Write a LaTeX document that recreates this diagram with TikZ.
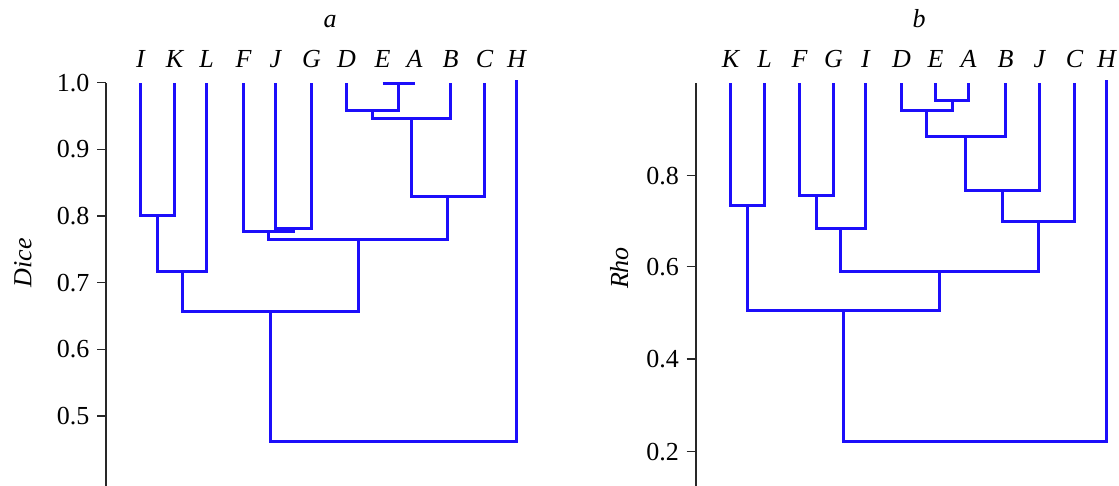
\documentclass[tikz,border=0pt]{standalone}
\usepackage{fontspec}
\setmainfont{Liberation Serif}
\definecolor{dendroblue}{RGB}{28,14,250}
\definecolor{axisgray}{RGB}{40,40,40}
\tikzset{
  dend/.style={draw=dendroblue, line width=3pt, line join=miter},
  axisline/.style={draw=axisgray, line width=1.6pt},
  leaf/.style={font=\itshape, anchor=base, inner sep=0pt},
  ticklab/.style={anchor=east, inner sep=0pt},
  paneltitle/.style={font=\itshape, anchor=base, inner sep=0pt},
  axistitle/.style={font=\itshape, anchor=base, inner sep=0pt, rotate=90}
}
\begin{document}
\begin{tikzpicture}[x=1pt,y=1pt]
\fontsize{26}{30}\selectfont
\useasboundingbox (0,0) rectangle (1119,486);

% ---------------- panel a : Dice ----------------
\node[paneltitle] (ta) at (330,458.5) {a};
\node[axistitle] (ya) at (31.5,223.5) {Dice};
\draw[axisline] (106,0) -- (106,403.3);
\foreach \v/\Y in {1.0/403.3, 0.9/336.6, 0.8/270, 0.7/203.3, 0.6/136.6, 0.5/70}{
  \draw[axisline] (97,\Y) -- (106,\Y);
  \node[ticklab] at (89.5,\Y) {\v};
}
% leaves
\foreach \n/\x in {I/140.5, K/174.5, L/206.5, F/243.5, J/275.5, G/311.5,
                   D/346.5, E/382.5, A/414.5, B/450.5, C/484.5}{
  \node[leaf] (la\n) at (\x,418.7) {\n};
  \coordinate (a\n) at (\x,402.5);
}
\node[leaf] (laH) at (516.5,418.7) {H};
\coordinate (aH) at (516.5,405.5);
% merge points
\coordinate (mEA)    at (398.5,402.5);
\coordinate (mDEA)   at (372.5,375.5);
\coordinate (mDEAB)  at (411.5,367.5);
\coordinate (mDEABC) at (447.5,289.5);
\coordinate (mJG)    at (293.5,257.5);
\coordinate (mFJG)   at (268.5,254.5);
\coordinate (mFD)    at (358.5,246.5);
\coordinate (mIK)    at (157.5,270.5);
\coordinate (mIKL)   at (182.5,214.5);
\coordinate (mLeft)  at (270.5,174.5);
\coordinate (mRoot)  at (393.5,44.5);
% branches
\draw[dend] (aE) |- (mEA) -| (aA);
\draw[dend] (aD) |- (mDEA) -| (mEA);
\draw[dend] (mDEA) |- (mDEAB) -| (aB);
\draw[dend] (mDEAB) |- (mDEABC) -| (aC);
\draw[dend] (aJ) |- (mJG) -| (aG);
\draw[dend] (aF) |- (mFJG) -| (mJG);
\draw[dend] (mFJG) |- (mFD) -| (mDEABC);
\draw[dend] (aI) |- (mIK) -| (aK);
\draw[dend] (mIK) |- (mIKL) -| (aL);
\draw[dend] (mIKL) |- (mLeft) -| (mFD);
\draw[dend] (mLeft) |- (mRoot) -| (aH);

% ---------------- panel b : Rho ----------------
\node[paneltitle] (tb) at (919,458.5) {b};
\node[axistitle] (yb) at (628,218) {Rho};
\draw[axisline] (696,0) -- (696,403.3);
\foreach \v/\Y in {0.8/310.3, 0.6/219.3, 0.4/127, 0.2/34.3}{
  \draw[axisline] (686.7,\Y) -- (696,\Y);
  \node[ticklab] at (679,\Y) {\v};
}
% leaves
\foreach \n/\x in {K/730.5, L/764.5, F/799.5, G/833.5, I/865.5, D/901.5,
                   E/935.5, A/968.5, B/1005.5, J/1039.5, C/1074.5}{
  \node[leaf] (lb\n) at (\x,418.7) {\n};
  \coordinate (b\n) at (\x,402.5);
}
\node[leaf] (lbH) at (1106.5,418.7) {H};
\coordinate (bH) at (1106.5,405.5);
% merge points
\coordinate (nEA)     at (952.5,385.5);
\coordinate (nDEA)    at (926.5,375.5);
\coordinate (nDEAB)   at (965.5,349.5);
\coordinate (nDEABJ)  at (1002.5,295.5);
\coordinate (nDEABJC) at (1038.5,264.5);
\coordinate (nFG)     at (816.5,290.5);
\coordinate (nFGI)    at (840.5,257.5);
\coordinate (nMid)    at (939.5,214.5);
\coordinate (nKL)     at (747.5,280.5);
\coordinate (nLeft)   at (843.5,175.5);
\coordinate (nRoot)   at (974.5,44.5);
% branches
\draw[dend] (bE) |- (nEA) -| (bA);
\draw[dend] (bD) |- (nDEA) -| (nEA);
\draw[dend] (nDEA) |- (nDEAB) -| (bB);
\draw[dend] (nDEAB) |- (nDEABJ) -| (bJ);
\draw[dend] (nDEABJ) |- (nDEABJC) -| (bC);
\draw[dend] (bF) |- (nFG) -| (bG);
\draw[dend] (nFG) |- (nFGI) -| (bI);
\draw[dend] (nFGI) |- (nMid) -| (nDEABJC);
\draw[dend] (bK) |- (nKL) -| (bL);
\draw[dend] (nKL) |- (nLeft) -| (nMid);
\draw[dend] (nLeft) |- (nRoot) -| (bH);
\end{tikzpicture}
\end{document}
